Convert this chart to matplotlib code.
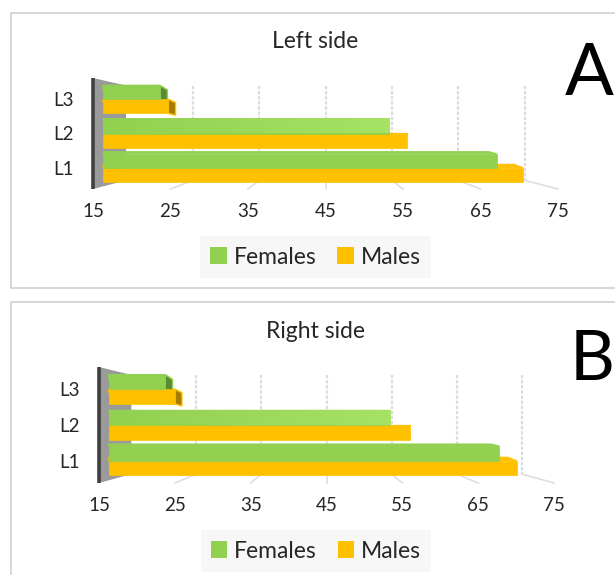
import matplotlib
matplotlib.use('Agg')
import matplotlib.pyplot as plt
from matplotlib.colors import LinearSegmentedColormap
from matplotlib.patches import Polygon, Rectangle
import numpy as np

plt.rcParams['font.family'] = ['Lato', 'DejaVu Sans']

levels = ['L1', 'L2', 'L3']
ticks = [15, 25, 35, 45, 55, 65, 75]

left_females = [67.1, 53.2, 23.6]
left_males = [70.5, 55.5, 24.7]
right_females = [67.8, 53.4, 23.7]
right_males = [70.1, 56.0, 25.0]

GREEN = '#92d050'
YELLOW = '#ffc000'
W, H = 615, 575

fig = plt.figure(figsize=(W / 100, H / 100), dpi=100)

# frames of the two panels
for x0, y0, y1 in [(10.5, 12.5, 287.5), (10.5, 301.5, 600)]:
    fig.add_artist(Rectangle((x0 / W, 1 - y1 / H), (700 - x0) / W, (y1 - y0) / H, transform=fig.transFigure,
                             fc='white', ec='#cfcfcf', lw=1.2, zorder=-5))


def back_x(v):
    # where a value lands on the back wall of the fake 3d box
    return 45 + (v - 45) * 0.858


def back_y(y):
    return y + (1 - y) * 0.1


def panel(left, right, top, bottom, females, males, title, title_y, letter, letter_x, letter_y, leg_box):
    ax = fig.add_axes([left / W, 1 - bottom / H, (right - left) / W, (bottom - top) / H])
    ax.patch.set_alpha(0)
    for s in ax.spines.values():
        s.set_visible(False)

    # grid on back wall and floor lines
    for v in ticks[1:]:
        ax.plot([back_x(v)] * 2, [2.4, -0.37], color='#dcdcdc', lw=1.6, ls=(0, (1.5, 0.8)), zorder=1, clip_on=False)
        ax.plot([back_x(v), v], [-0.37, -0.62], color='#dedede', lw=1.2, zorder=1, clip_on=False)

    # side wall
    ax.add_patch(Polygon([(15, 2.62), (back_x(15), 2.4), (back_x(15), -0.37), (15, -0.62)],
                         fc='#9a9a9a', ec='none', zorder=2))
    ax.plot([15, 15], [2.62, -0.62], color='#404040', lw=2.6, zorder=6, clip_on=False, solid_capstyle='butt')

    h = 0.41
    y = np.arange(len(levels))
    start = 15 + 10 * (10 / 77.5)
    for vals, off, col, dark in [(males, -h, YELLOW, '#a67c00'), (females, 0, GREEN, '#5a8a33')]:
        for yi, v in zip(y, vals):
            y0 = yi + off
            y1 = y0 + h
            d = (back_x(v) - v) * 0.33
            ax.add_patch(Polygon([(start, y1), (start, back_y(y1)), (v + d, back_y(y1)), (v, y1)],
                                 fc=col, ec=col, lw=0.8, zorder=3))
            if d > 0:
                ax.add_patch(Polygon([(v, y0), (v, y1), (v + d, back_y(y1)), (v + d, back_y(y0))],
                                     fc=dark, ec=col, lw=1, zorder=3))
        ax.barh(y + off + h / 2, np.array(vals) - start, h, left=start, color=col, edgecolor=col, lw=0.5, zorder=4)

    # the middle green bar gets lighter towards its end
    shine = LinearSegmentedColormap.from_list('shine', [GREEN, '#a6e264'])
    ax.imshow(np.linspace(0, 1, 60).reshape(1, -1), cmap=shine, aspect='auto', zorder=5,
              extent=(start, females[1], 1, 1 + h))

    ax.set_xlim(15, 75)
    ax.set_ylim(-0.62, 2.62)
    ax.set_xticks(ticks)
    ax.set_yticks(y)
    ax.set_yticklabels(levels)
    ax.tick_params(axis='x', length=0, pad=10, labelsize=13.5, labelcolor='#262626')
    ax.tick_params(axis='y', length=0, pad=14, labelsize=13.5, labelcolor='#262626')

    fig.text(title[1] / W, 1 - title_y / H, title[0], ha='center', va='center', fontsize=16.5,
             color='#262626')
    fig.text(letter_x / W, 1 - letter_y / H, letter, ha='left', va='center', fontsize=letter_size(letter), color='black')

    handles = [Rectangle((0, 0), 1, 1, fc=GREEN, ec='none'), Rectangle((0, 0), 1, 1, fc=YELLOW, ec='none')]
    fig.legend(handles, ['Females', 'Males'], ncol=2, loc='center',
               bbox_to_anchor=(leg_box[0] / W, 1 - leg_box[1] / H), frameon=True, facecolor='#f7f7f7',
               edgecolor='none', fontsize=16.5, handlelength=0.72, handleheight=0.72, handletextpad=0.3,
               columnspacing=0.9, borderpad=0.45, fancybox=False, framealpha=1,
               labelcolor='#262626')
    return ax


def letter_size(letter):
    return 52 if letter == 'A' else 50


panel(93, 558, 78, 189, left_females, left_males, ('Left side', 315), 41, 'A', 565, 74, (315.5, 257))
panel(99, 554, 367, 483, right_females, right_males, ('Right side', 316), 332, 'B', 570, 361, (316, 551))

fig.savefig('out.png', dpi=100)
